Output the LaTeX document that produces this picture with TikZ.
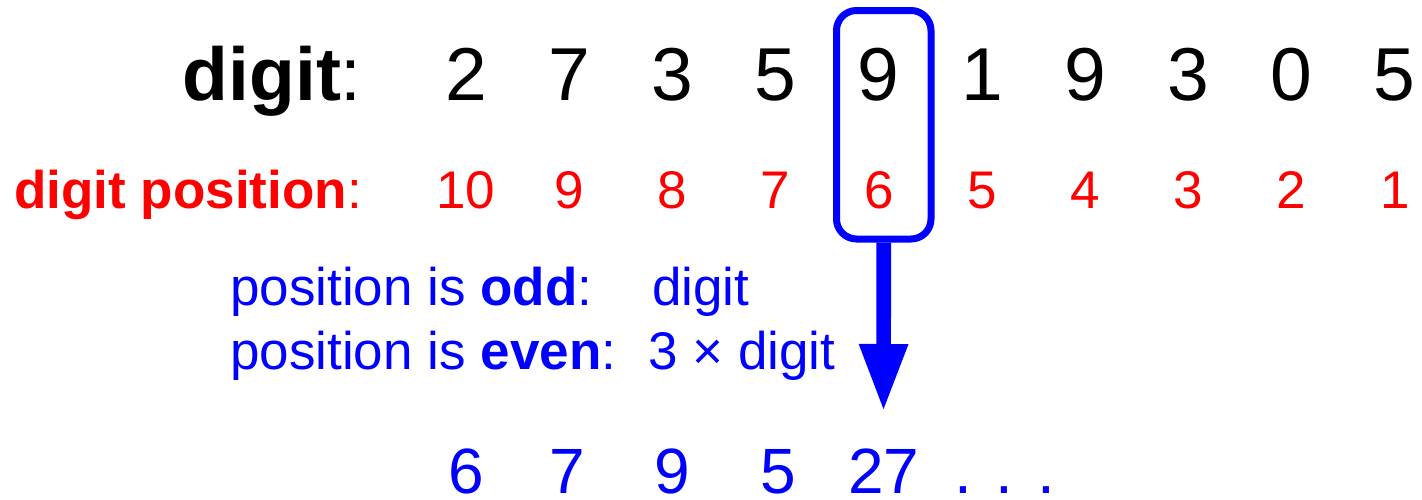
\documentclass[tikz,border=0pt]{standalone}
\usepackage{fontspec}
\setmainfont{Liberation Sans}
\usetikzlibrary{arrows.meta}
\definecolor{pblue}{RGB}{0,0,255}
\definecolor{pred}{RGB}{255,0,0}
\begin{document}
\begin{tikzpicture}[x=1pt,y=-1pt,
  dgtxt/.style={anchor=base,inner sep=0pt,font=\fontsize{75}{80}\selectfont,text=black},
  postxt/.style={anchor=base,inner sep=0pt,font=\fontsize{53}{60}\selectfont,text=pred},
  restxt/.style={anchor=base,inner sep=0pt,text depth=0pt,font=\fontsize{64}{70}\selectfont,text=pblue},
  ruletxt/.style={anchor=base west,inner sep=0pt,font=\fontsize{53}{60}\selectfont,text=pblue},
  hilite/.style={draw=pblue,line width=7pt,rounded corners=20pt,minimum width=94.5pt,minimum height=228.5pt,inner sep=0pt},
  bigarrow/.style={draw=pblue,line width=14.7pt,-{Triangle[width=45pt,length=68pt,fill=pblue]}}]
\useasboundingbox (0,0) rectangle (1422,499);
% row labels
\node[dgtxt,anchor=base east] (lab1) at (362,100) {\textbf{digit}:};
\node[postxt,anchor=base east] (lab2) at (362,208) {\textbf{digit position}:};
% digits
\foreach \d/\p [count=\i] in {2/10,7/9,3/8,5/7,9/6,1/5,9/4,3/3,0/2,5/1}{
  \node[dgtxt] (d\i) at ({466+103.2*(\i-1)},100) {\d};
  \node[postxt] (p\i) at ({466+103.2*(\i-1)},208) {\p};
}
% highlight box
\node[hilite] (box) at (883.75,124.75) {};
\coordinate (tip) at (883.5,412);
\draw[bigarrow] (box.south) -- (tip);
% rules
\node[ruletxt] (r1) at (230,305) {position is \textbf{odd}:};
\node[ruletxt] (r1b) at (652,305) {digit};
\node[ruletxt] (r2) at (230,369) {position is \textbf{even}:};
\node[ruletxt] (r2b) at (648,369) {3 × digit};
% results
\node[restxt] (s1) at (466,493) {6};
\node[restxt] (s2) at (567,493) {7};
\node[restxt] (s3) at (672,493) {9};
\node[restxt] (s4) at (778,493) {5};
\node[restxt] (s5) at (884,493) {27};
\node[restxt,anchor=base west] (s6) at (954,493) {. . .};
\end{tikzpicture}
\end{document}
